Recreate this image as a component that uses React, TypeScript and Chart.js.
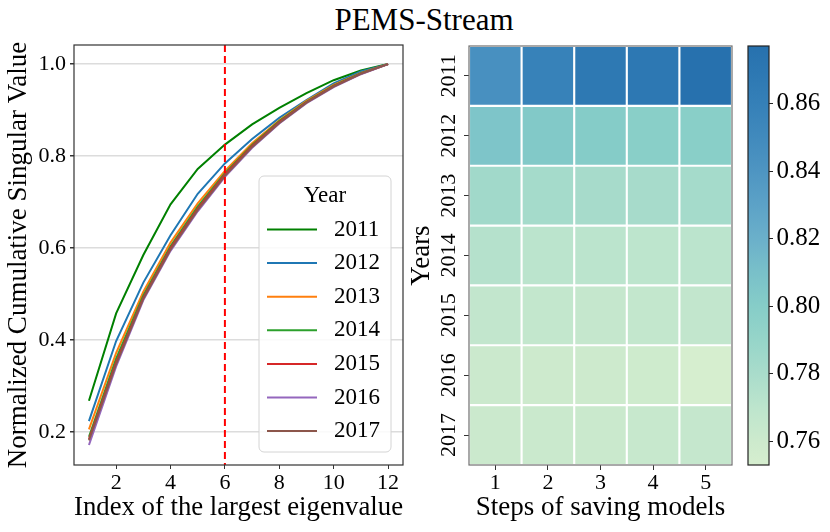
import { useEffect, useRef } from "react";
import { Chart, registerables } from "chart.js";

Chart.register(...registerables);

const FONT = "Liberation Serif";

// left panel: cumulative singular values per year
const eigenIndex = [1, 2, 3, 4, 5, 6, 7, 8, 9, 10, 11, 12];
const years = ["2011", "2012", "2013", "2014", "2015", "2016", "2017"];
const curve2011 = [0.268, 0.458, 0.585, 0.695, 0.772, 0.825, 0.869, 0.905, 0.937, 0.965, 0.986, 1.0];
const curve2012 = [0.224, 0.398, 0.525, 0.628, 0.718, 0.784, 0.837, 0.883, 0.922, 0.958, 0.984, 1.0];
const curve2013 = [0.206, 0.372, 0.505, 0.612, 0.697, 0.768, 0.828, 0.878, 0.92, 0.955, 0.981, 1.0];
const curve2014 = [0.19, 0.36, 0.497, 0.604, 0.69, 0.763, 0.824, 0.876, 0.918, 0.953, 0.98, 1.0];
const curve2015 = [0.185, 0.352, 0.492, 0.6, 0.686, 0.76, 0.822, 0.874, 0.917, 0.952, 0.979, 1.0];
const curve2016 = [0.172, 0.343, 0.487, 0.594, 0.68, 0.755, 0.818, 0.871, 0.915, 0.95, 0.978, 1.0];
const curve2017 = [0.182, 0.348, 0.49, 0.597, 0.683, 0.757, 0.82, 0.872, 0.916, 0.951, 0.979, 1.0];
const curves = [curve2011, curve2012, curve2013, curve2014, curve2015, curve2016, curve2017];
const lineColors = ["#008000", "#1f77b4", "#ff7f0e", "#2ca02c", "#d62728", "#9467bd", "#8c564b"];
const cutoffIndex = 6;
const xTicks = [2, 4, 6, 8, 10, 12];
const yTicks = [0.2, 0.4, 0.6, 0.8, 1.0];

// right panel: heatmap (rows = years, columns = saving steps)
const saveSteps = ["1", "2", "3", "4", "5"];
const heat2011 = [0.845, 0.858, 0.868, 0.869, 0.877];
const heat2012 = [0.806, 0.803, 0.801, 0.798, 0.798];
const heat2013 = [0.784, 0.782, 0.781, 0.781, 0.782];
const heat2014 = [0.774, 0.771, 0.771, 0.77, 0.771];
const heat2015 = [0.767, 0.766, 0.765, 0.766, 0.767];
const heat2016 = [0.761, 0.76, 0.76, 0.759, 0.753];
const heat2017 = [0.761, 0.762, 0.762, 0.764, 0.765];
const heatRows = [heat2011, heat2012, heat2013, heat2014, heat2015, heat2016, heat2017];
const colorbarTicks = [0.76, 0.78, 0.8, 0.82, 0.84, 0.86];

const heatMin = Math.min(...heatRows.flat());
const heatMax = Math.max(...heatRows.flat());

// colormap sampled from the reference colorbar (fraction of range -> colour)
const cmapStops: [number, string][] = [
  [0, "#d6eecf"],
  [0.056, "#cdeacd"],
  [0.137, "#bde5cd"],
  [0.218, "#a9dccb"],
  [0.298, "#96d5c9"],
  [0.379, "#86cdc8"],
  [0.46, "#79c0c9"],
  [0.54, "#6bb0ca"],
  [0.621, "#5ca2c7"],
  [0.702, "#4e95c2"],
  [0.782, "#418abd"],
  [0.863, "#3580b8"],
  [0.944, "#2c77b2"],
  [1, "#2771ae"],
];

const font = (size: number, lineHeight = 1.2) => ({ family: FONT, size, lineHeight });

function hexRgb(h: string) {
  return [1, 3, 5].map((i) => parseInt(h.slice(i, i + 2), 16));
}

function cmap(v: number) {
  const t = Math.max(0, Math.min(1, (v - heatMin) / (heatMax - heatMin)));
  for (let i = 1; i < cmapStops.length; i++) {
    const [t1, c1] = cmapStops[i];
    if (t <= t1) {
      const [t0, c0] = cmapStops[i - 1];
      const f = (t - t0) / (t1 - t0);
      const a = hexRgb(c0);
      const b = hexRgb(c1);
      const c = a.map((x, k) => Math.round(x + (b[k] - x) * f));
      return `rgb(${c[0]},${c[1]},${c[2]})`;
    }
  }
  return cmapStops[cmapStops.length - 1][1];
}

function framePlugin(color: string, width: number) {
  return {
    id: "frame",
    afterDraw(chart: any) {
      const { ctx, chartArea: a } = chart;
      ctx.save();
      ctx.strokeStyle = color;
      ctx.lineWidth = width;
      ctx.strokeRect(a.left, a.top, a.right - a.left, a.bottom - a.top);
      ctx.restore();
    },
  };
}

const cutoffLine = {
  id: "cutoffLine",
  afterDatasetsDraw(chart: any) {
    const { ctx, chartArea: a } = chart;
    const x = chart.scales.x.getPixelForValue(cutoffIndex);
    ctx.save();
    ctx.strokeStyle = "#ff0000";
    ctx.lineWidth = 2;
    ctx.setLineDash([7, 4]);
    ctx.beginPath();
    ctx.moveTo(x, a.top);
    ctx.lineTo(x, a.bottom);
    ctx.stroke();
    ctx.restore();
  },
};

const yearLegend = {
  id: "yearLegend",
  afterDraw(chart: any) {
    const { ctx, chartArea: a } = chart;
    const w = 132;
    const h = 276;
    const x0 = a.right - 12 - w;
    const y0 = a.bottom - 13 - h;
    ctx.save();
    ctx.beginPath();
    ctx.roundRect(x0, y0, w, h, 5);
    ctx.fillStyle = "rgba(255,255,255,0.85)";
    ctx.fill();
    ctx.strokeStyle = "#d4d4d4";
    ctx.lineWidth = 1;
    ctx.stroke();
    ctx.fillStyle = "#000";
    ctx.font = `23px "${FONT}"`;
    ctx.textBaseline = "middle";
    ctx.textAlign = "center";
    ctx.fillText("Year", x0 + w / 2, y0 + 20);
    ctx.textAlign = "left";
    chart.data.datasets.forEach((ds: any, i: number) => {
      const y = y0 + 53.5 + i * 33.6;
      ctx.strokeStyle = ds.borderColor;
      ctx.lineWidth = 2;
      ctx.beginPath();
      ctx.moveTo(x0 + 8, y);
      ctx.lineTo(x0 + 58, y);
      ctx.stroke();
      ctx.fillText(ds.label, x0 + 75, y);
    });
    ctx.restore();
  },
};

export default function App() {
  const lineRef = useRef<HTMLCanvasElement | null>(null);
  const heatRef = useRef<HTMLCanvasElement | null>(null);
  const barRef = useRef<HTMLCanvasElement | null>(null);

  useEffect(() => {
    if (!lineRef.current || !heatRef.current || !barRef.current) return;
    Chart.defaults.font.family = FONT;
    Chart.defaults.color = "#000";

    const lineChart = new Chart(lineRef.current, {
      type: "line",
      data: {
        datasets: years.map((y, i) => ({
          label: y,
          data: curves[i].map((v, k) => ({ x: eigenIndex[k], y: v })),
          borderColor: lineColors[i],
          backgroundColor: lineColors[i],
          borderWidth: 2,
          pointRadius: 0,
          tension: 0,
          order: years.length - i,
        })),
      },
      options: {
        responsive: false,
        animation: false,
        layout: { padding: { top: 45, right: 12, left: 0, bottom: 0 } },
        plugins: { legend: { display: false }, tooltip: { enabled: false } },
        scales: {
          x: {
            type: "linear",
            min: 0.45,
            max: 12.55,
            afterBuildTicks: (s: any) => {
              s.ticks = xTicks.map((v) => ({ value: v }));
            },
            afterFit: (s: any) => {
              s.height = 67;
            },
            ticks: { font: font(22), color: "#000", padding: 1, maxRotation: 0 },
            grid: { drawOnChartArea: false, drawTicks: true, tickLength: 4, tickColor: "#333" },
            border: { display: false },
            title: {
              display: true,
              text: "Index of the largest eigenvalue",
              font: font(27, 1),
              color: "#000",
              padding: { top: 0, bottom: 10.5 },
            },
          },
          y: {
            type: "linear",
            min: 0.1285,
            max: 1.0415,
            afterBuildTicks: (s: any) => {
              s.ticks = yTicks.map((v) => ({ value: v }));
            },
            afterFit: (s: any) => {
              s.width = 74;
            },
            ticks: {
              font: font(22),
              color: "#000",
              padding: 4,
              callback: (v: any) => Number(v).toFixed(1),
            },
            grid: { color: "#dcdcdc", lineWidth: 1.5, drawTicks: true, tickLength: 4, tickColor: "#333" },
            border: { display: false },
            title: {
              display: true,
              text: "Normalized Cumulative Singular Value",
              font: font(27, 1),
              color: "#000",
              padding: { top: 5.5, bottom: 0 },
            },
          },
        },
      },
      plugins: [cutoffLine, framePlugin("#333", 1.2), yearLegend],
    } as any);

    const heatChart = new Chart(heatRef.current, {
      type: "bar",
      data: {
        labels: saveSteps,
        datasets: years.map((y, i) => ({
          label: y,
          data: heatRows[i].map(() => [i - 0.5, i + 0.5]),
          backgroundColor: heatRows[i].map((v) => cmap(v)),
          borderColor: "#ffffff",
          borderWidth: 1.4,
          borderSkipped: false,
          grouped: false,
          barPercentage: 1,
          categoryPercentage: 1,
        })),
      },
      options: {
        responsive: false,
        animation: false,
        layout: { padding: { top: 46, right: 13, left: 0, bottom: 0 } },
        plugins: { legend: { display: false }, tooltip: { enabled: false } },
        scales: {
          x: {
            type: "category",
            afterFit: (s: any) => {
              s.height = 67;
            },
            ticks: { font: font(22), color: "#000", padding: 0, maxRotation: 0 },
            grid: { offset: false, drawOnChartArea: false, drawTicks: true, tickLength: 5, tickColor: "#333" },
            border: { display: false },
            title: {
              display: true,
              text: "Steps of saving models",
              font: font(27, 1),
              color: "#000",
              padding: { top: 0, bottom: 10.5 },
            },
          },
          y: {
            type: "linear",
            reverse: true,
            min: -0.5,
            max: years.length - 0.5,
            afterBuildTicks: (s: any) => {
              s.ticks = years.map((_, i) => ({ value: i }));
            },
            afterFit: (s: any) => {
              s.width = 64;
            },
            ticks: {
              font: font(22),
              color: "#000",
              minRotation: 90,
              maxRotation: 90,
              crossAlign: "center",
              padding: -7.3,
              callback: (v: any) => years[v] ?? "",
            },
            grid: { drawOnChartArea: false, drawTicks: true, tickLength: 5, tickColor: "#333" },
            border: { display: false },
            title: {
              display: true,
              text: "Years",
              font: font(27, 1),
              color: "#000",
              padding: { top: 3, bottom: 0 },
            },
          },
        },
      },
      plugins: [framePlugin("#707070", 1.2)],
    } as any);

    const barChart = new Chart(barRef.current, {
      type: "bar",
      data: {
        labels: [""],
        datasets: [
          {
            data: [[heatMin, heatMax]],
            backgroundColor: (c: any) => {
              const a = c.chart.chartArea;
              if (!a) return "transparent";
              const g = c.chart.ctx.createLinearGradient(0, a.bottom, 0, a.top);
              cmapStops.forEach(([t, col]) => g.addColorStop(t, col));
              return g;
            },
            borderWidth: 0,
            barPercentage: 1,
            categoryPercentage: 1,
          },
        ],
      },
      options: {
        responsive: false,
        animation: false,
        layout: { padding: { top: 46, right: 0, left: 3, bottom: 67 } },
        plugins: { legend: { display: false }, tooltip: { enabled: false } },
        scales: {
          x: { display: false },
          y: {
            type: "linear",
            position: "right",
            min: heatMin,
            max: heatMax,
            afterBuildTicks: (s: any) => {
              s.ticks = colorbarTicks.map((v) => ({ value: v }));
            },
            afterFit: (s: any) => {
              s.width = 61;
            },
            ticks: {
              font: font(25),
              color: "#000",
              padding: 3.5,
              callback: (v: any) => Number(v).toFixed(2),
            },
            grid: { drawOnChartArea: false, drawTicks: true, tickLength: 4, tickColor: "#222" },
            border: { display: false },
          },
        },
      },
      plugins: [framePlugin("#222", 1.2)],
    } as any);

    return () => {
      lineChart.destroy();
      heatChart.destroy();
      barChart.destroy();
    };
  }, []);

  return (
    <div
      style={{
        position: "absolute",
        left: 0,
        top: 0,
        width: 830,
        height: 532,
        background: "#fff",
        overflow: "hidden",
        fontFamily: `"${FONT}", serif`,
      }}
    >
      <div
        style={{
          position: "absolute",
          left: 324,
          top: 4,
          width: 200,
          textAlign: "center",
          fontSize: 31,
          lineHeight: "31px",
          whiteSpace: "nowrap",
        }}
      >
        PEMS-Stream
      </div>
      <canvas
        ref={lineRef}
        width={415}
        height={532}
        style={{ position: "absolute", left: 0, top: 0, width: 415, height: 532 }}
      />
      <canvas
        ref={heatRef}
        width={340}
        height={532}
        style={{ position: "absolute", left: 405, top: 0, width: 340, height: 532 }}
      />
      <canvas
        ref={barRef}
        width={85}
        height={532}
        style={{ position: "absolute", left: 745, top: 0, width: 85, height: 532 }}
      />
    </div>
  );
}
